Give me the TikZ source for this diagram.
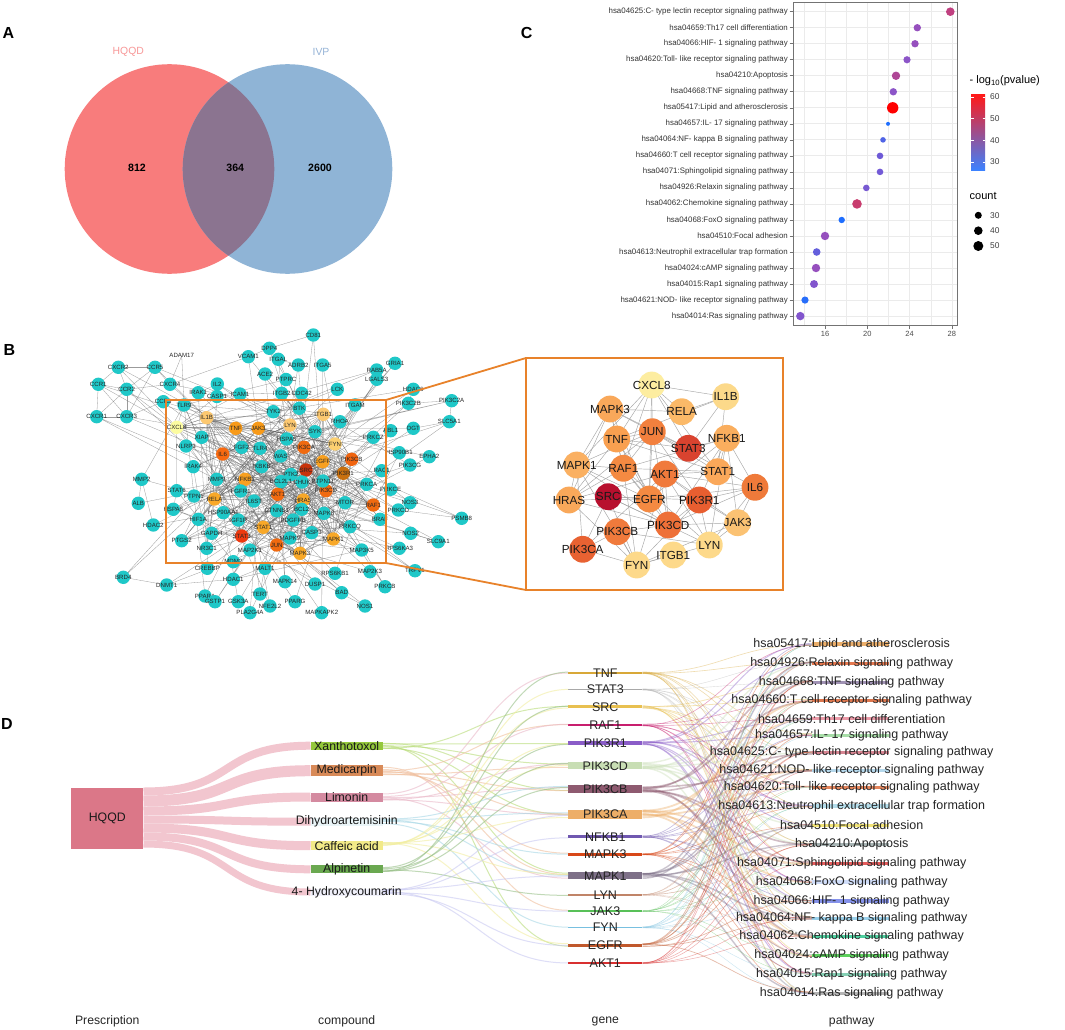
\documentclass[tikz,border=0pt]{standalone}
\usepackage{fontspec}
\setmainfont{Liberation Sans}
\usetikzlibrary{calc}
% Venn
\definecolor{vennL}{HTML}{F87C7C}
\definecolor{vennR}{HTML}{8FB4D6}
\definecolor{vennM}{HTML}{8B7490}
\definecolor{hqtxt}{HTML}{F89898}
\definecolor{ivptxt}{HTML}{96B4D7}
% network
\definecolor{obox}{HTML}{E8822A}
% sankey
\definecolor{hqbox}{HTML}{DB7788}
\definecolor{hqflow}{HTML}{F2C6CF}
\definecolor{cc1}{HTML}{94C83C}\definecolor{cf1}{HTML}{B8DC78}
\definecolor{cc2}{HTML}{D88A58}\definecolor{cf2}{HTML}{F0BE9C}
\definecolor{cc3}{HTML}{D48AA0}\definecolor{cf3}{HTML}{EAB8C8}
\definecolor{cc4}{HTML}{EAF5F8}\definecolor{cf4}{HTML}{A8D8E6}
\definecolor{cc5}{HTML}{F2EA88}\definecolor{cf5}{HTML}{F2EEA0}
\definecolor{cc6}{HTML}{6AA850}\definecolor{cf6}{HTML}{98C088}
\definecolor{cc7}{HTML}{F0F0FA}\definecolor{cf7}{HTML}{C8C8F2}
\definecolor{gc1}{HTML}{D8A838}\definecolor{gc2}{HTML}{A8A8A8}
\definecolor{gc3}{HTML}{E8C050}\definecolor{gc4}{HTML}{C81E6E}
\definecolor{gc5}{HTML}{8A5CC8}\definecolor{gc6}{HTML}{C8DEB4}
\definecolor{gc7}{HTML}{8E5A70}\definecolor{gc8}{HTML}{EDAE68}
\definecolor{gc9}{HTML}{7058B0}\definecolor{gc10}{HTML}{D84818}
\definecolor{gc11}{HTML}{7E7088}\definecolor{gc12}{HTML}{C08468}
\definecolor{gc13}{HTML}{58C058}\definecolor{gc14}{HTML}{78C0E0}
\definecolor{gc15}{HTML}{C0582C}\definecolor{gc16}{HTML}{D83030}
\definecolor{pc1}{HTML}{E8A050}\definecolor{pc2}{HTML}{E06030}
\definecolor{pc3}{HTML}{9080A8}\definecolor{pc4}{HTML}{D86030}
\definecolor{pc5}{HTML}{E88898}\definecolor{pc6}{HTML}{98D898}
\definecolor{pc7}{HTML}{D07080}\definecolor{pc8}{HTML}{A8D0E8}
\definecolor{pc9}{HTML}{E07040}\definecolor{pc10}{HTML}{A8D8E8}
\definecolor{pc11}{HTML}{F0E060}\definecolor{pc12}{HTML}{98A8A8}
\definecolor{pc13}{HTML}{E04040}\definecolor{pc14}{HTML}{C8D8F8}
\definecolor{pc15}{HTML}{7080E8}\definecolor{pc16}{HTML}{88C8E8}
\definecolor{pc17}{HTML}{30C890}\definecolor{pc18}{HTML}{40C840}
\definecolor{pc19}{HTML}{70C8A8}\definecolor{pc20}{HTML}{A8A8A8}
% dot plot
\definecolor{cbTop}{HTML}{FF1A1A}
\definecolor{cbMid}{HTML}{A848A8}
\definecolor{cbBot}{HTML}{3C82FF}
\definecolor{gridc}{HTML}{EBEBEB}

\tikzset{
  panlet/.style={font=\fontsize{16}{16}\selectfont\bfseries, inner sep=0pt},
  vlab/.style={font=\fontsize{10.4}{11}\selectfont, inner sep=0pt},
  vnum/.style={font=\fontsize{10.6}{11}\selectfont\bfseries, inner sep=0pt},
  rowlab/.style={font=\fontsize{7.9}{8}\selectfont, text=black!80, anchor=east, inner sep=0pt},
  ticklab/.style={font=\fontsize{7.5}{8}\selectfont, text=black!70, inner sep=0pt},
  leglab/.style={font=\fontsize{8.4}{9}\selectfont, text=black!75, anchor=west, inner sep=0pt},
  legtitle/.style={font=\fontsize{11}{12}\selectfont, anchor=west, inner sep=0pt},
  ncirc/.style={circle, minimum size=13.4pt, inner sep=0pt, draw=none},
  nlab/.style={font=\fontsize{6.1}{6.5}\selectfont, inner sep=0pt, text=black!85},
  nedge/.style={draw=black!60, line width=0.3pt, opacity=0.65},
  zcirc/.style={circle, minimum size=26.8pt, inner sep=0pt, draw=none},
  zlab/.style={font=\fontsize{11.7}{12}\selectfont, inner sep=0pt, text=black!90},
  zedge/.style={draw=black!35, line width=0.45pt},
  orbox/.style={draw=obox, line width=1.8pt},
  cbar/.style={rectangle, minimum width=72pt, inner sep=0pt, draw=none},
  gbar/.style={rectangle, minimum width=74pt, inner sep=0pt, draw=none},
  pbar/.style={rectangle, minimum width=77pt, minimum height=3.5pt, inner sep=0pt, draw=none, opacity=0.85},
  clab/.style={font=\fontsize{12.3}{13}\selectfont, inner sep=0pt, text=black!90},
  glab/.style={font=\fontsize{12.5}{13}\selectfont, inner sep=0pt, text=black!85},
  plab/.style={font=\fontsize{12.5}{13}\selectfont, inner sep=0pt, text=black!85},
  axlab/.style={font=\fontsize{12.2}{13}\selectfont, inner sep=0pt, text=black!85},
  hflow/.style={draw=hqflow},
  cflow/.style={line width=1pt, opacity=0.6},
  gflow/.style={opacity=0.4},
}

\begin{document}
\begin{tikzpicture}[x=1pt,y=-1pt]
\useasboundingbox (0,0) rectangle (1065,1030);
\fill[white] (0,0) rectangle (1065,1030);

% ================= A : Venn =================
\node[panlet] (LA) at (8.5,33.3) {A};
\fill[vennL] (169.5,169) circle (104.8pt);
\fill[vennR] (287.5,169) circle (104.8pt);
\begin{scope}
  \clip (169.5,169) circle (104.8pt);
  \fill[vennM] (287.5,169) circle (104.8pt);
\end{scope}
\node[vlab, text=hqtxt] (vhq) at (128.3,52.3) {HQQD};
\node[vlab, text=ivptxt] (vivp) at (321,52.3) {IVP};
\node[vnum] (v1) at (137,168.3) {812};
\node[vnum] (v2) at (235.3,168.3) {364};
\node[vnum] (v3) at (320,168.3) {2600};

% ================= C : dot plot =================
\node[panlet] (LC) at (526.7,33.3) {C};
\fill[white] (793,2.3) rectangle (957.3,325.7);
\foreach \gx in {803.9,846.1,888.4,930.7} \draw[gridc, line width=0.4pt] (\gx,2.3) -- (\gx,325.7);
\foreach \gx in {825,867.3,909.6,951.9} \draw[gridc, line width=0.8pt] (\gx,2.3) -- (\gx,325.7);
\foreach \k in {0,...,19} \draw[gridc, line width=0.8pt] (793,11.7+16.02*\k) -- (957.3,11.7+16.02*\k);
\draw[black!55, line width=0.7pt] (793,2.3) rectangle (957.3,325.7);
\foreach \gx/\t [count=\i] in {825/16,867.3/20,909.6/24,951.9/28} {
  \draw[black!55, line width=0.6pt] (\gx,325.7) -- (\gx,329);
  \node[ticklab] (tx\i) at (\gx,333.8) {\t};
}
\foreach \lab/\px/\r/\col [count=\i] in {
 hsa04625:C- type lectin receptor signaling pathway/950.3/4.3/C04080,
 hsa04659:Th17 cell differentiation/917.3/3.7/9650BE,
 hsa04066:HIF- 1 signaling pathway/915/3.7/9650BE,
 hsa04620:Toll- like receptor signaling pathway/907/3.6/8C55C8,
 hsa04210:Apoptosis/896/4.2/AF4696,
 hsa04668:TNF signaling pathway/893.3/3.7/8C55C8,
 hsa05417:Lipid and atherosclerosis/892.7/5.7/FF0000,
 hsa04657:IL- 17 signaling pathway/888/2/1E6EFF,
 hsa04064:NF- kappa B signaling pathway/883/2.8/5064E6,
 hsa04660:T cell receptor signaling pathway/880/3.3/6E5AD7,
 hsa04071:Sphingolipid signaling pathway/880/3.3/735AD7,
 hsa04926:Relaxin signaling pathway/866.3/3.3/785AD2,
 hsa04062:Chemokine signaling pathway/857/4.8/C83C6E,
 hsa04068:FoxO signaling pathway/841.7/3.2/1E6EFF,
 hsa04510:Focal adhesion/825/4.2/9650BE,
 hsa04613:Neutrophil extracellular trap formation/816.7/3.8/645FDC,
 hsa04024:cAMP signaling pathway/816/4.2/9650BE,
 hsa04015:Rap1 signaling pathway/814/4/8255CD,
 hsa04621:NOD- like receptor signaling pathway/805/3.6/286EFA,
 hsa04014:Ras signaling pathway/800.3/4.2/8255CD} {
  \pgfmathsetmacro\yy{11.7+16.02*(\i-1)}
  \definecolor{tmpc}{HTML}{\col}
  \draw[black!55, line width=0.6pt] (789.5,\yy) -- (793,\yy);
  \node[rowlab] (rl\i) at (788,\yy) {\lab};
  \fill[tmpc] (\px,\yy) circle (\r pt);
}
% legend
\node[legtitle] (lt1) at (969.5,81) {- log\textsubscript{10}(pvalue)};
\shade[top color=cbTop, middle color=cbMid, bottom color=cbBot] (971,95) rectangle (985,170);
\foreach \t/\yy [count=\i] in {60/97,50/118.7,40/140.3,30/162} {
  \draw[white, line width=0.5pt] (971,\yy) -- (973.5,\yy) (982.5,\yy) -- (985,\yy);
  \node[leglab] (ll\i) at (990,\yy) {\t};
}
\node[legtitle] (lt2) at (969.5,196) {count};
\foreach \t/\yy/\r [count=\i] in {30/215.3/3.5,40/230.7/4.3,50/246/5} {
  \fill[black] (978.3,\yy) circle (\r pt);
  \node[leglab] (lc\i) at (990,\yy) {\t};
}

% ================= B : network =================
\node[panlet] (LB) at (9.5,349.5) {B};
\def\smallnodes{306/470/SRC/C8320A,277.7/494.3/AKT1/F06A10,241.7/536/STAT3/EE3A10,276.7/545/JUN/F06A10,
304/447.3/PIK3CA/F06A10,351.7/459.3/PIK3CB/F0640F,326/490.7/PIK3CD/F06A10,343.3/473.3/PIK3R1/C8700F,
322.7/461.7/EGFR/F8A020,373.3/505/RAF1/F06A10,222.7/454/IL6/F86A10,235.7/428.3/TNF/F89A18,
258.3/428.3/JAK3/F89A18,245/479.3/NFKB1/F8A020,214.5/499/RELA/F8A828,303.3/500/HRAS/F8A828,
263.3/527.3/STAT1/F8A828,333.3/539/MAPK1/F8A828,300/553.3/MAPK3/F8A828,290/425/LYN/FCC870,
323.3/414.3/ITGB1/FCC870,335/444/FYN/FCD070,206.7/417.7/IL1B/FCC870,176.7/427.3/CXCL8/FCFCA0,
184/405/TLR9/1FC8C8,273.3/411.7/TYK2/1FC8C8,299.3/408.3/BTK/1FC8C8,355/405/ITGAM/1FC8C8,
340/421.7/RHOA/1FC8C8,315/431.7/SYK/1FC8C8,373.3/437.3/PRKCZ/1FC8C8,201.7/437.3/XIAP/1FC8C8,
186/446/NLRP3/1FC8C8,286.7/439/HSPA5/1FC8C8,241.7/447.3/FGF2/1FC8C8,260/448.3/TLR4/1FC8C8,
280.7/456/WAS/1FC8C8,193.3/466.7/IRAK4/1FC8C8,261.7/466.7/IKBKB/1FC8C8,291/474.5/PTK2/1FC8C8,
381.7/470.7/RAC1/1FC8C8,216.7/479.3/MMP9/1FC8C8,281/481.5/BCL2L1/1FC8C8,302/482/CHUK/1FC8C8,
323/481/PTPN11/1FC8C8,366.7/484.3/PRKCA/1FC8C8,176.7/490.7/STAT6/1FC8C8,194/496/PTPN1/1FC8C8,
240.7/491/FGFR1/1FC8C8,254/501/IL6ST/1FC8C8,345/502.7/MTOR/1FC8C8,173.3/509.3/HSPA8/1FC8C8,
198.3/519.3/HIF1A/1FC8C8,223.3/512.7/HSP90AA1/1FC8C8,276.7/510.7/CTNNB1/1FC8C8,301.7/509.3/BCL2/1FC8C8,
324/513.3/MAPK8/1FC8C8,238.3/520/IGF1R/1FC8C8,293.3/520/PDGFRB/1FC8C8,350/526.7/PRKCQ/1FC8C8,
380/519.3/BRAF/1FC8C8,211.7/533.3/GAPDH/1FC8C8,311.7/532.7/CASP3/1FC8C8,181.7/540.7/PTGS2/1FC8C8,
290/538/MAPK9/1FC8C8,206.7/548.3/NR3C1/1FC8C8,250/550/MAP2K1/1FC8C8,361.7/550/MAP3K5/1FC8C8,
313.3/335/CD81/1FC8C8,269.3/348.3/DPP4/1FC8C8,248.3/356.7/VCAM1/1FC8C8,278.3/359.3/ITGAL/1FC8C8,
298.3/365/ADRB2/1FC8C8,322.7/365/ITGA5/1FC8C8,118.3/367.3/CXCR2/1FC8C8,155/367.3/CCR5/1FC8C8,
265/374/ACE2/1FC8C8,286/379.5/PTPRC/1FC8C8,395/363.3/GRIA1/1FC8C8,376.7/370/RAB5A/1FC8C8,
376.7/379.3/LGALS3/1FC8C8,98.3/384.3/CCR1/1FC8C8,126.7/389.3/CCR2/1FC8C8,170/384.3/CXCR4/1FC8C8,
217.3/384/IL2/1FC8C8,198.3/392.7/IRAK1/1FC8C8,217/396.5/CASP1/1FC8C8,240/394/ICAM1/1FC8C8,
281.7/393.3/ITGB2/1FC8C8,301.7/393.3/CDC42/1FC8C8,337.3/389.3/LCK/1FC8C8,413.3/389.3/HDAC6/1FC8C8,
408.3/403.3/PIK3C2B/1FC8C8,451.7/400.7/PIK3C2A/1FC8C8,163.3/401.7/CCR3/1FC8C8,96.7/416.7/CXCR1/1FC8C8,
126.7/416.7/CXCR3/1FC8C8,141.7/479.3/MMP2/1FC8C8,138.3/503.3/ALB/1FC8C8,153.3/525/HDAC2/1FC8C8,
399.3/548.3/RPS6KA3/1FC8C8,233.3/561.7/MDM2/1FC8C8,207.3/568.3/CREBBP/1FC8C8,265/568.3/MALT1/1FC8C8,
335/573.3/RPS6KB1/1FC8C8,370/571.7/MAP2K3/1FC8C8,123.3/577.3/BRD4/1FC8C8,166.7/585/DNMT1/1FC8C8,
233.3/579.3/HDAC1/1FC8C8,285/581.7/MAPK14/1FC8C8,315/584/DUSP1/1FC8C8,341.7/592.7/BAD/1FC8C8,
385/586.7/PRKCB/1FC8C8,205/596/PPARA/1FC8C8,215/601.7/GSTP1/1FC8C8,238.3/601.7/GSK3A/1FC8C8,
260/594/TERT/1FC8C8,270/606/NFE2L2/1FC8C8,295/601.7/PPARG/1FC8C8,250/612.7/PLA2G4A/1FC8C8,
321.7/612.7/MAPKAPK2/1FC8C8,365/606/NOS1/1FC8C8,449.3/421.7/SLC5A1/1FC8C8,390.7/430.7/ABL1/1FC8C8,
413.3/428.3/OGT/1FC8C8,399.3/452.7/HSP90B1/1FC8C8,429.3/456.7/EPHA2/1FC8C8,410/465/PIK3CG/1FC8C8,
390.7/489.3/PRKCE/1FC8C8,410/502.7/NOS3/1FC8C8,398.3/510/PRKCD/1FC8C8,461.7/518.3/PSMB8/1FC8C8,
410.7/533.3/NOS2/1FC8C8,438.3/541.7/SLC9A1/1FC8C8,415/570.7/TRPV1/1FC8C8}
\foreach \xa/\ya/\lab/\col [count=\i] in \smallnodes { \coordinate (n\i) at (\xa,\ya); }
\coordinate (nadam) at (181.7,355.7);
% edges
\pgfmathsetseed{4242}
\foreach \k in {1,...,150} {
  \pgfmathrandominteger{\a}{1}{24}\pgfmathrandominteger{\b}{1}{24}
  \draw[nedge] (n\a) -- (n\b);
}
\foreach \k in {25,...,68} {
  \pgfmathrandominteger{\a}{1}{24}\pgfmathrandominteger{\b}{1}{24}
  \pgfmathrandominteger{\c}{1}{24}\pgfmathrandominteger{\d}{25}{68}
  \draw[nedge] (n\k) -- (n\a) (n\k) -- (n\b) (n\k) -- (n\c) (n\k) -- (n\d);
}
\foreach \k in {69,...,135} {
  \pgfmathrandominteger{\a}{1}{24}\pgfmathrandominteger{\b}{1}{68}
  \draw[nedge] (n\k) -- (n\a) (n\k) -- (n\b);
}
\foreach \a/\b in {75/76,75/82,75/83,82/83,82/96,83/97,96/97,76/84,83/84,76/83,97/95,96/83,76/97,82/97,
  84/71,92/93,93/94,94/123,125/123,132/131,134/133,107/108,108/109,69/70,70/71,72/73,85/86,88/89,100/98,99/98}
  \draw[nedge] (n\a) -- (n\b);
\draw[nedge] (nadam) -- (n84) (nadam) -- (n25);
% nodes
\foreach \xa/\ya/\lab/\col [count=\i] in \smallnodes {
  \definecolor{tmpc}{HTML}{\col}
  \node[ncirc, fill=tmpc, label={[nlab]center:\lab}] (N\i) at (n\i) {};
}
\node[nlab] (Nadam) at (nadam) {ADAM17};
% boxes
\draw[orbox] (166,400) rectangle (386,563);
\draw[orbox] (526,358) rectangle (782.7,590);
\coordinate (sb1) at (386,400); \coordinate (sb2) at (386,563);
\coordinate (bb1) at (526,358); \coordinate (bb2) at (526,590);
\draw[obox, line width=1.8pt] (sb1) -- (bb1) (sb2) -- (bb2);

% zoomed network
\def\bignodes{651.7/385/CXCL8/FDEDA0,725.7/396.7/IL1B/FCD98A,610/409/MAPK3/F9A85A,681.7/411.7/RELA/FBB968,
652.3/431.7/JUN/F2803E,616.7/439/TNF/F9A050,726.7/438.3/NFKB1/FAAE5E,688.3/448.3/STAT3/D9432F,
576.7/465/MAPK1/FAB062,623.3/468.3/RAF1/F48A42,665/474/AKT1/F07A3C,717.7/471.7/STAT1/FAA85A,
755/487.3/IL6/EF7A3A,569/500/HRAS/F9A85A,608.3/496.7/SRC/B8102E,649.3/499/EGFR/F48A42,
699.3/500/PIK3R1/E85E30,737.7/522.7/JAK3/FBC273,617.3/531.7/PIK3CB/F07A3C,668.3/525/PIK3CD/EE7038,
582.7/549.3/PIK3CA/E86232,709.3/545/LYN/FDD98A,673.3/555/ITGB1/FDD98A,636.7/565/FYN/FDD98A}
\foreach \xa/\ya/\lab/\col [count=\i] in \bignodes { \coordinate (z\i) at (\xa,\ya); }
\foreach \xa/\ya/\la/\ca [count=\i] in \bignodes {
  \foreach \xb/\yb/\lb/\cb [count=\j] in \bignodes {
    \ifnum\i<\j
      \pgfmathtruncatemacro\ok{and(veclen(\xa-\xb,\ya-\yb)<118, mod(\i*\j+\i,4)!=0)}
      \ifnum\ok=1 \draw[zedge] (z\i) -- (z\j); \fi
    \fi
  }
}
\foreach \xa/\ya/\lab/\col [count=\i] in \bignodes {
  \definecolor{tmpc}{HTML}{\col}
  \node[zcirc, fill=tmpc, label={[zlab]center:\lab}] (Z\i) at (z\i) {};
}

% ================= D : Sankey =================
\node[panlet] (LD) at (7,723.5) {D};
\node[rectangle, fill=hqbox, minimum width=72pt, minimum height=61.6pt, inner sep=0pt] (hq) at (107.3,818.5) {};
\foreach \y/\h [count=\i] in {745.7/8,770.7/11,797/9,821.7/8,845.7/9,869.3/8,892/7}
  {\node[cbar, minimum height=\h pt, fill=cc\i] (c\i) at (346.7,\y) {};}
\foreach \y/\h [count=\i] in {672.7/2,689.3/1.2,706.7/3,725/2,743.3/4,765.7/7,789.3/8,814.3/9,836.7/2.5,854.3/2.5,875.7/7,895/1.5,911/1.5,927.3/1.5,945/3,963.3/2}
  {\node[gbar, minimum height=\h pt, fill=gc\i] (g\i) at (605.3,\y) {};}
\foreach \y [count=\i] in {644,663.3,682.3,700.7,718.7,735.3,752.7,770.3,787.7,806,825.3,844.3,863.3,882,901,918.3,936.3,955.7,974.3,993.3}
  {\node[pbar, fill=pc\i] (p\i) at (850.5,\y) {};}
% HQQD -> compound
\foreach \o/\w [count=\i] in {4/8,13.5/11,23.5/9,32/8,40.5/9,49/8,56.5/7}
  {\draw[hflow, line width=\w pt] ($(hq.north east)+(0,\o)$) .. controls +(95,0) and +(-95,0) .. (c\i.west);}
% compound -> gene
\pgfmathsetseed{777}
\foreach \c/\g in {1/3,1/5,1/6,1/7,1/8,1/11,1/15,2/4,2/6,2/7,2/8,2/10,2/11,2/13,3/1,3/4,3/6,3/7,3/8,3/11,
  4/7,4/8,4/10,4/14,4/11,5/2,5/3,5/5,5/6,5/8,5/11,5/15,6/1,6/3,6/5,6/6,6/7,6/12,7/9,7/8,7/11,7/16,7/15,7/13} {
  \pgfmathsetmacro\ta{0.15+0.7*rnd}\pgfmathsetmacro\tb{0.1+0.8*rnd}
  \draw[cflow, draw=cf\c] ($(c\c.north east)!\ta!(c\c.south east)$) .. controls +(90,0) and +(-90,0) .. ($(g\g.north west)!\tb!(g\g.south west)$);
}
% gene -> pathway
\foreach \g/\w in {1/0.6,2/0.4,3/0.8,4/0.6,5/1.0,6/1.4,7/1.6,8/1.8,9/0.6,10/0.6,11/1.4,12/0.4,13/0.4,14/0.4,15/0.7,16/0.5} {
  \foreach \p in {1,...,20} {
    \pgfmathtruncatemacro\ok{mod(\g*7+\p*11,9)<4}
    \ifnum\ok=1
      \pgfmathsetmacro\ta{0.1+0.8*rnd}\pgfmathsetmacro\tb{0.1+0.8*rnd}
      \draw[gflow, draw=gc\g, line width=\w pt] ($(g\g.north east)!\ta!(g\g.south east)$) .. controls +(80,0) and +(-80,0) .. ($(p\p.north west)!\tb!(p\p.south west)$);
    \fi
  }
}
% labels
\node[clab] (hql) at (hq) {HQQD};
\foreach \lab [count=\i] in {Xanthotoxol,Medicarpin,Limonin,Dihydroartemisinin,Caffeic acid,Alpinetin,4- Hydroxycoumarin}
  {\node[clab] (cl\i) at (c\i) {\lab};}
\foreach \lab [count=\i] in {TNF,STAT3,SRC,RAF1,PIK3R1,PIK3CD,PIK3CB,PIK3CA,NFKB1,MAPK3,MAPK1,LYN,JAK3,FYN,EGFR,AKT1}
  {\node[glab] (gl\i) at (g\i) {\lab};}
\foreach \lab [count=\i] in {
 hsa05417:Lipid and atherosclerosis,
 hsa04926:Relaxin signaling pathway,
 hsa04668:TNF signaling pathway,
 hsa04660:T cell receptor signaling pathway,
 hsa04659:Th17 cell differentiation,
 hsa04657:IL- 17 signaling pathway,
 hsa04625:C- type lectin receptor signaling pathway,
 hsa04621:NOD- like receptor signaling pathway,
 hsa04620:Toll- like receptor signaling pathway,
 hsa04613:Neutrophil extracellular trap formation,
 hsa04510:Focal adhesion,
 hsa04210:Apoptosis,
 hsa04071:Sphingolipid signaling pathway,
 hsa04068:FoxO signaling pathway,
 hsa04066:HIF- 1 signaling pathway,
 hsa04064:NF- kappa B signaling pathway,
 hsa04062:Chemokine signaling pathway,
 hsa04024:cAMP signaling pathway,
 hsa04015:Rap1 signaling pathway,
 hsa04014:Ras signaling pathway}
  {\node[plab] (pl\i) at ($(p\i)+(1.2,0)$) {\lab};}
\node[axlab] (ax1) at (107.3,1021.7) {Prescription};
\node[axlab] (ax2) at (346.7,1021.7) {compound};
\node[axlab] (ax3) at (605.3,1021.7) {gene};
\node[axlab] (ax4) at (851.7,1021.7) {pathway};
\end{tikzpicture}
\end{document}
